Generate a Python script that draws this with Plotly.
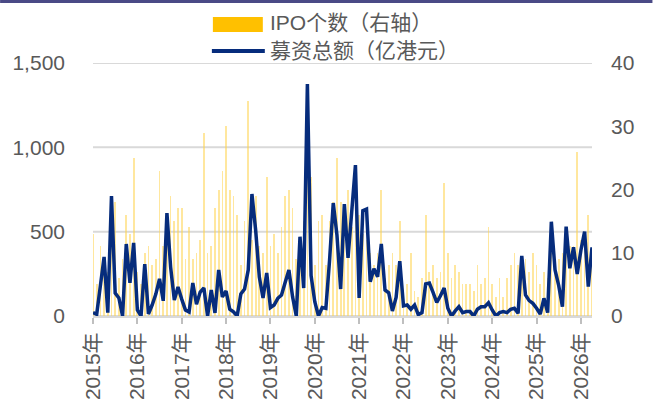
import pandas as pd
import plotly.graph_objects as go

# ---- data (monthly, Jan 2015 - Apr 2026) ----
amount = [20, 10, 180, 350, 20, 711, 136, 107, 0, 427, 196, 433,
          36, 0, 308, 12, 65, 130, 220, 90, 610, 290, 95, 172,
          100, 36, 24, 196, 70, 142, 166, 0, 154, 18, 273, 113,
          148, 40, 25, 0, 130, 160, 273, 723, 510, 231, 107, 255,
          50, 65, 105, 125, 200, 273, 113, 0, 470, 166, 1375, 240,
          85, 0, 50, 45, 330, 670, 480, 160, 664, 344, 620, 895,
          107, 625, 634, 203, 280, 233, 427, 154, 138, 30, 110, 325,
          60, 65, 40, 65, 8, 20, 190, 195, 140, 80, 120, 166,
          46, 0, 30, 55, 20, 26, 26, 0, 40, 55, 55, 79,
          36, 0, 20, 26, 20, 40, 46, 16, 356, 125, 91, 75,
          46, 12, 105, 20, 559, 273, 180, 55, 530, 283, 407, 249,
          390, 500, 174, 407]
ipo_count = [13, 5, 11, 9, 7, 12, 18, 6, 9, 16, 13, 25,
             7, 5, 10, 11, 8, 9, 23, 11, 12, 19, 15, 17,
             17, 9, 14, 9, 10, 12, 29, 10, 11, 17, 20, 23,
             30, 20, 19, 16, 8, 15, 34, 12, 19, 11, 10, 22,
             11, 13, 10, 14, 19, 20, 17, 9, 12, 15, 25, 22,
             8, 15, 16, 8, 15, 18, 25, 18, 12, 20, 14, 18,
             16, 13, 12, 10, 8, 10, 20, 6, 8, 10, 8, 15,
             4, 5, 10, 4, 3, 6, 16, 7, 8, 6, 7, 21,
             10, 6, 8, 7, 5, 5, 5, 4, 8, 5, 6, 14,
             5, 3, 6, 3, 6, 8, 10, 8, 9, 9, 7, 10,
             8, 5, 7, 6, 10, 9, 9, 10, 12, 11, 11, 26,
             12, 11, 16, 10]
months = [d.strftime("%Y-%m") for d in pd.date_range("2015-01-01", periods=len(amount), freq="MS")]
year_ticks = [m for m in months if m.endswith("-01")]
year_labels = [m[:4] + "年" for m in year_ticks]
left_ticks = [0, 500, 1000, 1500]
left_labels = ["0", "500", "1,000", "1,500"]
right_ticks = [0, 10, 20, 30, 40]

names = ["IPO个数（右轴）", "募资总额（亿港元）"]

BAR_C = "#FFC000"
LINE_C = "#062C7C"
TXT = "#595959"
GRID = "#D9D9D9"
FONT = "Liberation Sans, Noto Sans CJK SC, sans-serif"

W, H = 653, 408
ML, MR, MT, MB = 93, 60.5, 63, 92
pw, ph = W - ML - MR, H - MT - MB


def px(x):
    return (x - ML) / pw


def py(y):
    return (H - MB - y) / ph


fig = go.Figure()
fig.add_trace(go.Bar(x=months, y=ipo_count, yaxis="y", width=0.2,
                     marker=dict(color="#FFD54F", line=dict(width=0)), opacity=0.55,
                     name=names[0], showlegend=False))
fig.add_trace(go.Scatter(x=months, y=amount, yaxis="y2", mode="lines",
                         line=dict(color=LINE_C, width=3.5),
                         name=names[1], showlegend=False))

shapes = []
for v in left_ticks:
    shapes.append(dict(type="line", xref="paper", yref="y2", x0=0, x1=1, y0=v, y1=v,
                       line=dict(color=GRID, width=2), layer="below"))
# top border line
shapes.append(dict(type="line", xref="paper", yref="paper", x0=px(0), x1=px(W),
                   y0=py(1.5), y1=py(1.5), line=dict(color="#4A4A86", width=3)))
# legend swatches
shapes.append(dict(type="rect", xref="paper", yref="paper", x0=px(213), x1=px(263),
                   y0=py(32), y1=py(17), fillcolor=BAR_C, line=dict(width=0)))
shapes.append(dict(type="line", xref="paper", yref="paper", x0=px(212), x1=px(265),
                   y0=py(51), y1=py(51), line=dict(color=LINE_C, width=4)))

annotations = [
    dict(text=names[0], xref="paper", yref="paper", x=px(268), y=py(22),
         xanchor="left", yanchor="middle", showarrow=False,
         font=dict(size=21, color=TXT, family=FONT)),
    dict(text=names[1], xref="paper", yref="paper", x=px(268), y=py(50),
         xanchor="left", yanchor="middle", showarrow=False,
         font=dict(size=21, color=TXT, family=FONT)),
]

fig.update_layout(
    width=W, height=H,
    margin=dict(l=ML, r=MR, t=MT, b=MB, pad=0, autoexpand=False),
    paper_bgcolor="white", plot_bgcolor="white",
    font=dict(family=FONT, size=21, color=TXT),
    barmode="overlay", bargap=0,
    shapes=shapes, annotations=annotations,
    xaxis=dict(type="category", range=[0, len(months) - 1],
               tickmode="array", tickvals=year_ticks, ticktext=year_labels,
               tickangle=-90, ticks="outside", ticklen=6, tickwidth=1.5,
               tickcolor="#BFBFBF", showgrid=False, showline=True,
               linecolor=GRID, linewidth=2, zeroline=False,
               tickfont=dict(size=21, color=TXT)),
    yaxis=dict(side="right", range=[0, 40], tickmode="array", tickvals=right_ticks,
               showgrid=False, zeroline=False, showline=False,
               ticklabelstandoff=18, tickfont=dict(size=21, color=TXT)),
    yaxis2=dict(side="left", overlaying="y", range=[0, 1500], tickmode="array",
                tickvals=left_ticks, ticktext=left_labels,
                showgrid=False, zeroline=False, showline=False,
                ticklabelstandoff=27, tickfont=dict(size=21, color=TXT)),
)

fig.write_html("out.html", config={"displayModeBar": False},
               post_script="document.body.style.margin='0';")
